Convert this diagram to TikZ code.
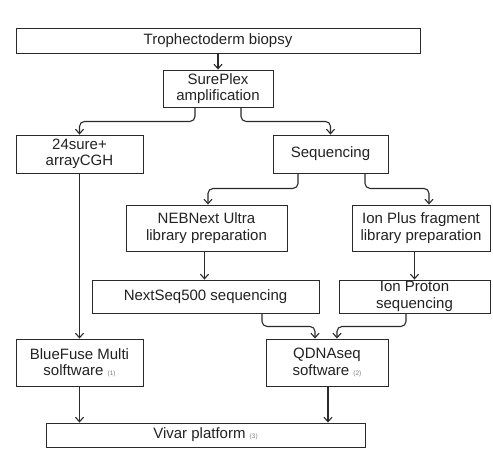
\documentclass[tikz,border=0pt]{standalone}
\usepackage{fontspec}
\setmainfont{Liberation Sans}
\usetikzlibrary{arrows.meta}
\definecolor{txt}{HTML}{222222}
\definecolor{ln}{HTML}{2A2A2A}
\tikzset{
  box/.style={draw=ln, line width=0.9pt, fill=white, align=center, inner sep=0pt,
    font=\fontsize{15}{16.5}\selectfont, text=txt},
  arr/.style={draw=ln, line width=1.1pt, rounded corners=5pt,
    -{Straight Barb[length=4.5pt,width=8pt,line width=1.1pt]}},
}
\newcommand{\smallnum}[1]{{\fontsize{6.5}{6.5}\selectfont\color{gray}#1}}
\begin{document}
\begin{tikzpicture}[x=1pt,y=-1pt]
\useasboundingbox[fill=white] (0,0) rectangle (493,459);
\node[box, minimum width=404pt, minimum height=25pt] (tb) at (218,40.5) {Trophectoderm biopsy};
\node[box, minimum width=110pt, minimum height=37pt] (sp) at (218,88.5) {SurePlex\\amplification};
\node[box, minimum width=127pt, minimum height=38pt] (cgh) at (79.5,154) {24sure+\\arrayCGH};
\node[box, minimum width=115pt, minimum height=38pt] (seq) at (330.5,154) {Sequencing};
\node[box, minimum width=161pt, minimum height=46pt] (neb) at (206.5,228) {NEBNext Ultra\\library preparation};
\node[box, minimum width=138pt, minimum height=46pt] (ionp) at (421,228) {Ion Plus fragment\\library preparation};
\node[box, minimum width=227pt, minimum height=33pt] (nxt) at (205.5,296.5) {NextSeq500 sequencing};
\node[box, minimum width=151pt, minimum height=33pt] (ionpr) at (414.5,296.5) {Ion Proton\\sequencing};
\node[box, minimum width=127pt, minimum height=47pt] (bf) at (79.5,362.5) {BlueFuse Multi\\solftware \smallnum{(1)}};
\node[box, minimum width=122pt, minimum height=47pt] (qd) at (327,362.5) {QDNAseq\\software \smallnum{(2)}};
\node[box, minimum width=319pt, minimum height=24pt] (viv) at (205.5,435) {Vivar platform \smallnum{(3)}};

\draw[arr] (tb.south) -- (sp.north);
\draw[arr] ([xshift=-23pt]sp.south) -- ++(0,14) -| (cgh.north);
\draw[arr] ([xshift=23pt]sp.south) -- ++(0,14) -| (seq.north);
\draw[arr] ([xshift=-32.5pt]seq.south) -- ++(0,15) -| ([xshift=1.5pt]neb.north);
\draw[arr] ([xshift=34.5pt]seq.south) -- ++(0,15) -| ([xshift=8pt]ionp.north);
\draw[arr] ([xshift=-2pt]neb.south) -- ([xshift=-2pt]neb.south |- nxt.north);
\draw[arr] (ionpr.north |- ionp.south) -- (ionpr.north);
\draw[arr] (cgh.south) -- (bf.north);
\draw[arr] ([xshift=56.5pt]nxt.south) -- ++(0,13) -| ([xshift=-12pt]qd.north);
\draw[arr] ([xshift=-8.5pt]ionpr.south) -- ++(0,13) -| ([xshift=10pt]qd.north);
\draw[arr] (bf.south) -- (bf.south |- viv.north);
\draw[arr] ([xshift=1pt]qd.south) -- ([xshift=1pt]qd.south |- viv.north);
\end{tikzpicture}
\end{document}
